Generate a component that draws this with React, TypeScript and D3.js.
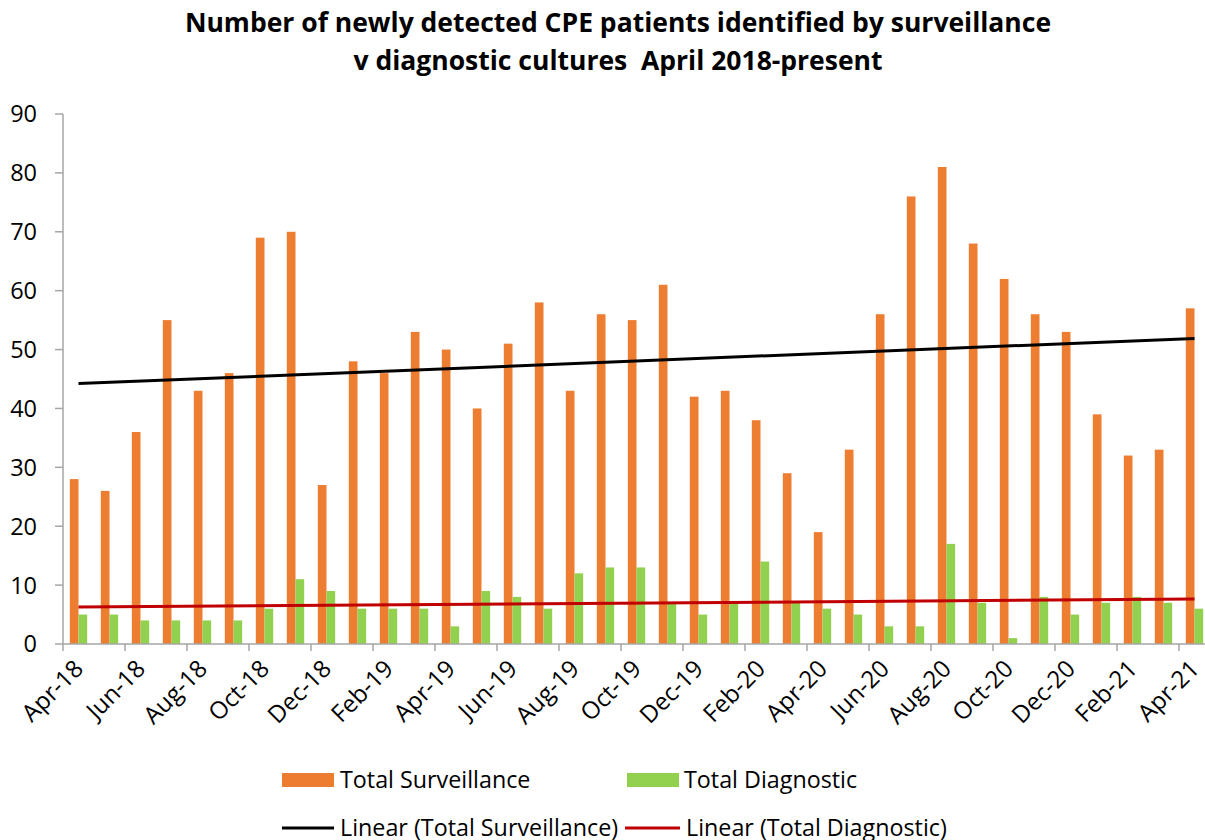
import React from 'react';
import * as d3 from 'd3';

const months = [
  'Apr-18', 'May-18', 'Jun-18', 'Jul-18', 'Aug-18', 'Sep-18', 'Oct-18', 'Nov-18', 'Dec-18', 'Jan-19',
  'Feb-19', 'Mar-19', 'Apr-19', 'May-19', 'Jun-19', 'Jul-19', 'Aug-19', 'Sep-19', 'Oct-19', 'Nov-19',
  'Dec-19', 'Jan-20', 'Feb-20', 'Mar-20', 'Apr-20', 'May-20', 'Jun-20', 'Jul-20', 'Aug-20', 'Sep-20',
  'Oct-20', 'Nov-20', 'Dec-20', 'Jan-21', 'Feb-21', 'Mar-21', 'Apr-21',
];
const surveillance = [
  28, 26, 36, 55, 43, 46, 69, 70, 27, 48,
  46, 53, 50, 40, 51, 58, 43, 56, 55, 61,
  42, 43, 38, 29, 19, 33, 56, 76, 81, 68,
  62, 56, 53, 39, 32, 33, 57,
];
const diagnostic = [
  5, 5, 4, 4, 4, 4, 6, 11, 9, 6,
  6, 6, 3, 9, 8, 6, 12, 13, 13, 7,
  5, 7, 14, 7, 6, 5, 3, 3, 17, 7,
  1, 8, 5, 7, 8, 7, 6,
];
const yTicks = [0, 10, 20, 30, 40, 50, 60, 70, 80, 90];

const ORANGE = '#ED7D31';
const GREEN = '#92D050';
const RED = '#C00000';
const FONT = '"Open Sans", Lato, sans-serif';

function linreg(vals: number[]) {
  const n = vals.length;
  const xs = vals.map((_, i) => i);
  const mx = d3.mean(xs)!;
  const my = d3.mean(vals)!;
  let sxy = 0, sxx = 0;
  for (let i = 0; i < n; i++) {
    sxy += (xs[i] - mx) * (vals[i] - my);
    sxx += (xs[i] - mx) ** 2;
  }
  const b = sxy / sxx;
  const a = my - b * mx;
  return (x: number) => a + b * x;
}

export default function App() {
  const W = 1205, H = 840;
  const x0 = 63, x1 = 63 + 31 * months.length;
  const x = d3.scaleBand<number>().domain(months.map((_, i) => i)).range([x0, x1]).paddingInner(0).paddingOuter(0);
  const y = d3.scaleLinear().domain([0, 90]).range([644, 114]);
  const bw = x.bandwidth();
  const barW = bw * 0.28;
  const cx = (i: number) => x(i)! + bw / 2;

  const fS = linreg(surveillance);
  const fD = linreg(diagnostic);
  const mk = (f: (x: number) => number) =>
    d3.line<number>().x((i) => cx(i)).y((i) => y(f(i)))([0, months.length - 1])!;

  const xTickIdx = months.map((_, i) => i).filter((i) => i % 2 === 0);

  return (
    <svg width={W} height={H} style={{ position: 'absolute', left: 0, top: 0, background: '#fff' }} fontFamily={FONT}>
      <rect x={0} y={0} width={W} height={H} fill="#fff" />
      <text x={618} y={32} textAnchor="middle" fontSize={26.5} fontWeight="bold" fill="#000">
        Number of newly detected CPE patients identified by surveillance
      </text>
      <text x={618} y={70} textAnchor="middle" fontSize={26.5} fontWeight="bold" fill="#000" style={{ whiteSpace: 'pre' }}>
        {'v diagnostic cultures  April 2018-present'}
      </text>

      {surveillance.map((v, i) => (
        <rect key={'s' + i} x={cx(i) - barW} y={y(v)} width={barW} height={y(0) - y(v)} fill={ORANGE} />
      ))}
      {diagnostic.map((v, i) => (
        <rect key={'d' + i} x={cx(i)} y={y(v)} width={barW} height={y(0) - y(v)} fill={GREEN} />
      ))}

      <line x1={x0} x2={x0} y1={y(90)} y2={y(0)} stroke="#A6A6A6" strokeWidth={1.5} />
      {yTicks.map((t) => (
        <g key={'yt' + t}>
          <line x1={x0 - 8} x2={x0} y1={y(t)} y2={y(t)} stroke="#A6A6A6" strokeWidth={1.5} />
          <text x={37} y={y(t)} dy="0.36em" textAnchor="end" fontSize={23.5} fill="#000">{t}</text>
        </g>
      ))}
      <line x1={x0} x2={x1} y1={y(0)} y2={y(0)} stroke="#A6A6A6" strokeWidth={1.5} />
      {xTickIdx.map((i) => (
        <line key={'xt' + i} x1={x(i)!} x2={x(i)!} y1={y(0)} y2={y(0) + 7} stroke="#A6A6A6" strokeWidth={1.5} />
      ))}
      {xTickIdx.map((i) => (
        <text key={'xl' + i} transform={`translate(${cx(i) - 6},${y(0) + 14}) rotate(-45)`} textAnchor="end" dy="0.72em" fontSize={24} fill="#000">
          {months[i]}
        </text>
      ))}

      <path d={mk(fS)} stroke="#000" strokeWidth={3} fill="none" />
      <path d={mk(fD)} stroke={RED} strokeWidth={3} fill="none" />

      <rect x={282} y={773} width={52} height={14} fill={ORANGE} />
      <text x={340} y={780} dy="0.36em" fontSize={23.3} fill="#000">Total Surveillance</text>
      <rect x={627} y={773} width={52} height={14} fill={GREEN} />
      <text x={684} y={780} dy="0.36em" fontSize={23.3} fill="#000">Total Diagnostic</text>
      <line x1={282} x2={334} y1={828} y2={828} stroke="#000" strokeWidth={3} />
      <text x={340} y={828} dy="0.36em" fontSize={23.3} fill="#000">Linear (Total Surveillance)</text>
      <line x1={625} x2={680} y1={828} y2={828} stroke={RED} strokeWidth={3} />
      <text x={686} y={828} dy="0.36em" fontSize={23.3} fill="#000">Linear (Total Diagnostic)</text>
    </svg>
  );
}
